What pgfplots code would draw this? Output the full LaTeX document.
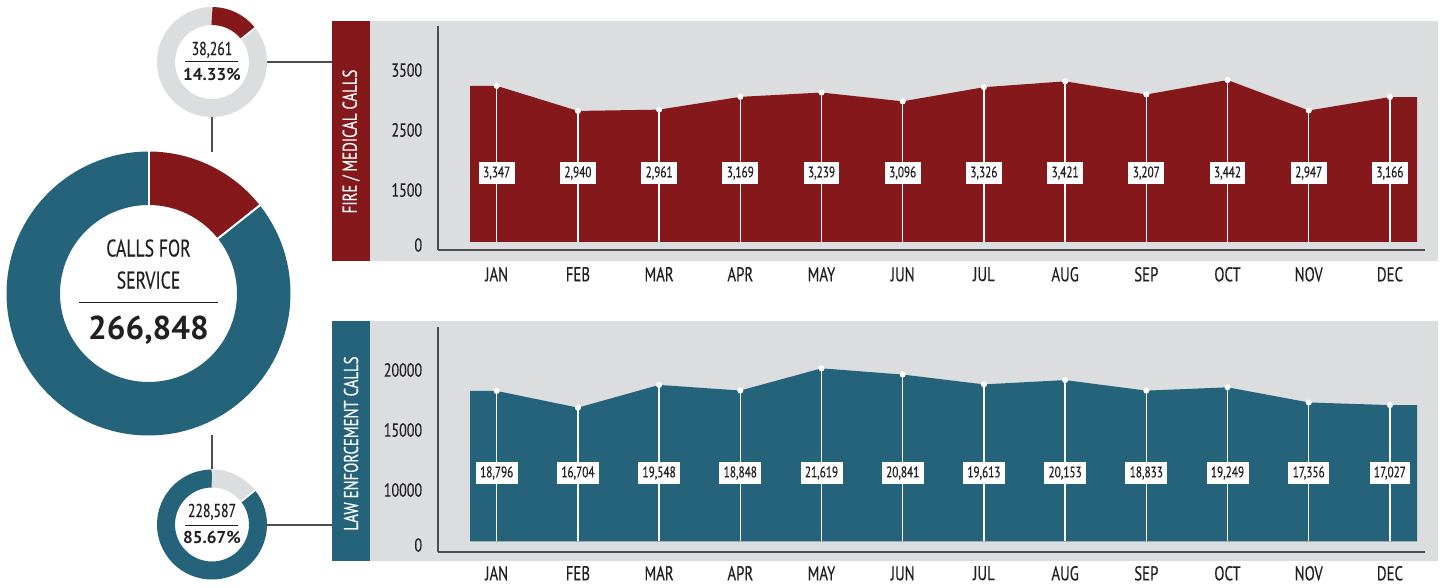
\documentclass[border=0pt]{standalone}
\usepackage{fontspec}
\setmainfont{PT Sans}[FakeStretch=0.74, FakeBold=0.35]
\newfontfamily\bnum{PT Sans}
\usepackage{pgfplots}
\usepackage{pgfplotstable}
\pgfplotsset{compat=1.18}

\definecolor{firered}{HTML}{84181A}
\definecolor{lawblue}{HTML}{24637A}
\definecolor{panelgray}{HTML}{DCDDDF}
\definecolor{ink}{HTML}{231F20}
\definecolor{rulegray}{HTML}{4D4D4F}

% monthly calls, x = month index (0 = JAN)
\pgfplotstableread{
x v
0 3347
1 2940
2 2961
3 3169
4 3239
5 3096
6 3326
7 3421
8 3207
9 3442
10 2947
11 3166
}\firedata

\pgfplotstableread{
x v
0 18796
1 16704
2 19548
3 18848
4 21619
5 20841
6 19613
7 20153
8 18833
9 19249
10 17356
11 17027
}\lawdata

\pgfplotsset{
  panel/.style={
    scale only axis, width=493.5pt,
    anchor=south west,
    xmin=-0.723, xmax=11.432,
    axis x line*=bottom, axis y line*=left,
    axis line style={draw=rulegray, line width=0.6pt, -},
    xtick={0,...,11},
    xticklabels={JAN,FEB,MAR,APR,MAY,JUN,JUL,AUG,SEP,OCT,NOV,DEC},
    scaled y ticks=false,
    major tick length=0pt,
    xticklabel style={font=\fontsize{10}{12}\selectfont, text=ink, yshift=-5pt},
    yticklabel style={font=\fontsize{9.5}{11}\selectfont, text=ink, xshift=-4.4pt},
  },
  stems/.style={draw=none, mark=none, forget plot,
    error bars/.cd, y dir=minus, y explicit, error mark=none,
    error bar style={draw=white, line width=0.7pt, solid}},
  dots/.style={only marks, mark=*, mark size=1.3pt,
    mark options={draw=white, fill=white}, forget plot},
  boxes/.style={draw=none, mark=none, forget plot,
    nodes near coords={\pgfmathprintnumber[assume math mode=true]{\pgfplotspointmeta}},
    point meta=\thisrow{v},
    every node near coord/.style={fill=white, anchor=center, inner xsep=2.2pt,
      inner ysep=2pt, text=ink, font=\fontsize{7.6}{8.5}\selectfont}},
}

\begin{document}
\begin{tikzpicture}
\begin{scope}[x=0.5pt,y=-0.5pt]
\path[use as bounding box] (0,0) rectangle (1443,585);

% panel backgrounds and side bands
\fill[panelgray] (370,21) rectangle (1438,261);
\fill[firered] (332,21) rectangle (370,261);
\fill[panelgray] (370,321) rectangle (1438,561);
\fill[lawblue] (332,321) rectangle (370,561);
\node[rotate=90, text=white, font=\fontsize{10}{12}\selectfont] at (351,141.5) {FIRE / MEDICAL CALLS};
\node[rotate=90, text=white, font=\fontsize{10}{12}\selectfont] at (351,443.5) {LAW ENFORCEMENT CALLS};

% connectors
\draw[rulegray, line width=0.6pt] (267,62) -- (332,62);
\draw[rulegray, line width=0.6pt] (212,117) -- (212,152);
\draw[rulegray, line width=0.6pt] (212,435) -- (212,469);
\draw[rulegray, line width=0.6pt] (267,525) -- (332,525);

% donuts: angle of the fire share
\pgfmathsetmacro\fireang{360*38.261/266.848}
\pgfmathsetmacro\fireend{-90+\fireang}
% big donut
\draw[lawblue, line width=26.75pt] (148.5,293.5) ++(\fireend:115.25) arc[start angle=\fireend, end angle=270, radius=115.25];
\draw[firered, line width=26.75pt] (148.5,293.5) ++(-90:115.25) arc[start angle=-90, end angle=\fireend, radius=115.25];
\draw[white, line width=1pt] (148.5,293.5) ++(-90:88) -- ++(-90:55);
\draw[white, line width=1pt] (148.5,293.5) ++(\fireend:88) -- ++(\fireend:55);
% top donut (fire share)
\draw[panelgray, line width=9pt] (212,62) ++(\fireend:46) arc[start angle=\fireend, end angle=270, radius=46];
\draw[firered, line width=9pt] (212,62) ++(-90:46) arc[start angle=-90, end angle=\fireend, radius=46];
\draw[white, line width=0.8pt] (212,62) ++(\fireend:36.5) -- ++(\fireend:19);
% bottom donut (law share)
\draw[lawblue, line width=9pt] (212,524.5) ++(\fireend:46) arc[start angle=\fireend, end angle=270, radius=46];
\draw[panelgray, line width=9pt] (212,524.5) ++(-90:46) arc[start angle=-90, end angle=\fireend, radius=46];
\draw[white, line width=0.8pt] (212,524.5) ++(\fireend:36.5) -- ++(\fireend:19);

% donut texts
\node[anchor=base, text=ink, font=\fontsize{12}{14}\selectfont] at (148.5,256.5) {CALLS FOR};
\node[anchor=base, text=ink, font=\fontsize{12}{14}\selectfont] at (148.5,288.5) {SERVICE};
\draw[ink, line width=0.5pt] (79,302) -- (218,302);
\node[anchor=base, text=ink, font=\bnum\bfseries\fontsize{16.5}{18}\selectfont] at (148.5,339.5) {266,848};

\node[anchor=base, text=ink, font=\fontsize{9.3}{11}\selectfont] at (212,55) {38,261};
\draw[ink, line width=0.5pt] (185,61.5) -- (238,61.5);
\node[anchor=base, text=ink, font=\bnum\bfseries\fontsize{8.6}{10}\selectfont] at (212,80) {14.33\%};

\node[anchor=base, text=ink, font=\fontsize{9.3}{11}\selectfont] at (212,517) {228,587};
\draw[ink, line width=0.5pt] (185,525) -- (238,525);
\node[anchor=base, text=ink, font=\bnum\bfseries\fontsize{8.6}{10}\selectfont] at (212,543) {85.67\%};
\end{scope}

% fire / medical
\begin{axis}[panel, at={(219pt,-125pt)}, height=112pt,
  ymin=678.8, ymax=4321,
  ytick={760,1654,2630,3605}, yticklabels={0,1500,2500,3500}]
\addplot[fill=firered, draw=none] coordinates {
  (-0.329,809) (-0.329,3347) (0,3347) (1,2940) (2,2961) (3,3169) (4,3239)
  (5,3096) (6,3326) (7,3421) (8,3207) (9,3442) (10,2947) (11,3166)
  (11.335,3166) (11.335,809)};
\addplot[stems] table[x=x, y=v, y error minus expr={\thisrow{v}-809}] {\firedata};
\addplot[dots] table[x=x, y=v] {\firedata};
\addplot[boxes] table[x=x, y expr=1931] {\firedata};
\end{axis}

% law enforcement
\begin{axis}[panel, at={(219pt,-276pt)}, height=112.5pt,
  xticklabel style={yshift=1.5pt},
  ymin=-1339, ymax=26786,
  ytick={-463,6411,13911,21411}, yticklabels={0,10000,15000,20000}]
\addplot[fill=lawblue, draw=none] coordinates {
  (-0.329,0) (-0.329,18796) (0,18796) (1,16704) (2,19548) (3,18848) (4,21619)
  (5,20841) (6,19613) (7,20153) (8,18833) (9,19249) (10,17356) (11,17027)
  (11.335,17027) (11.335,0)};
\addplot[stems] table[x=x, y=v, y error minus expr={\thisrow{v}}] {\lawdata};
\addplot[dots] table[x=x, y=v] {\lawdata};
\addplot[boxes] table[x=x, y expr=8536] {\lawdata};
\end{axis}
\end{tikzpicture}
\end{document}
